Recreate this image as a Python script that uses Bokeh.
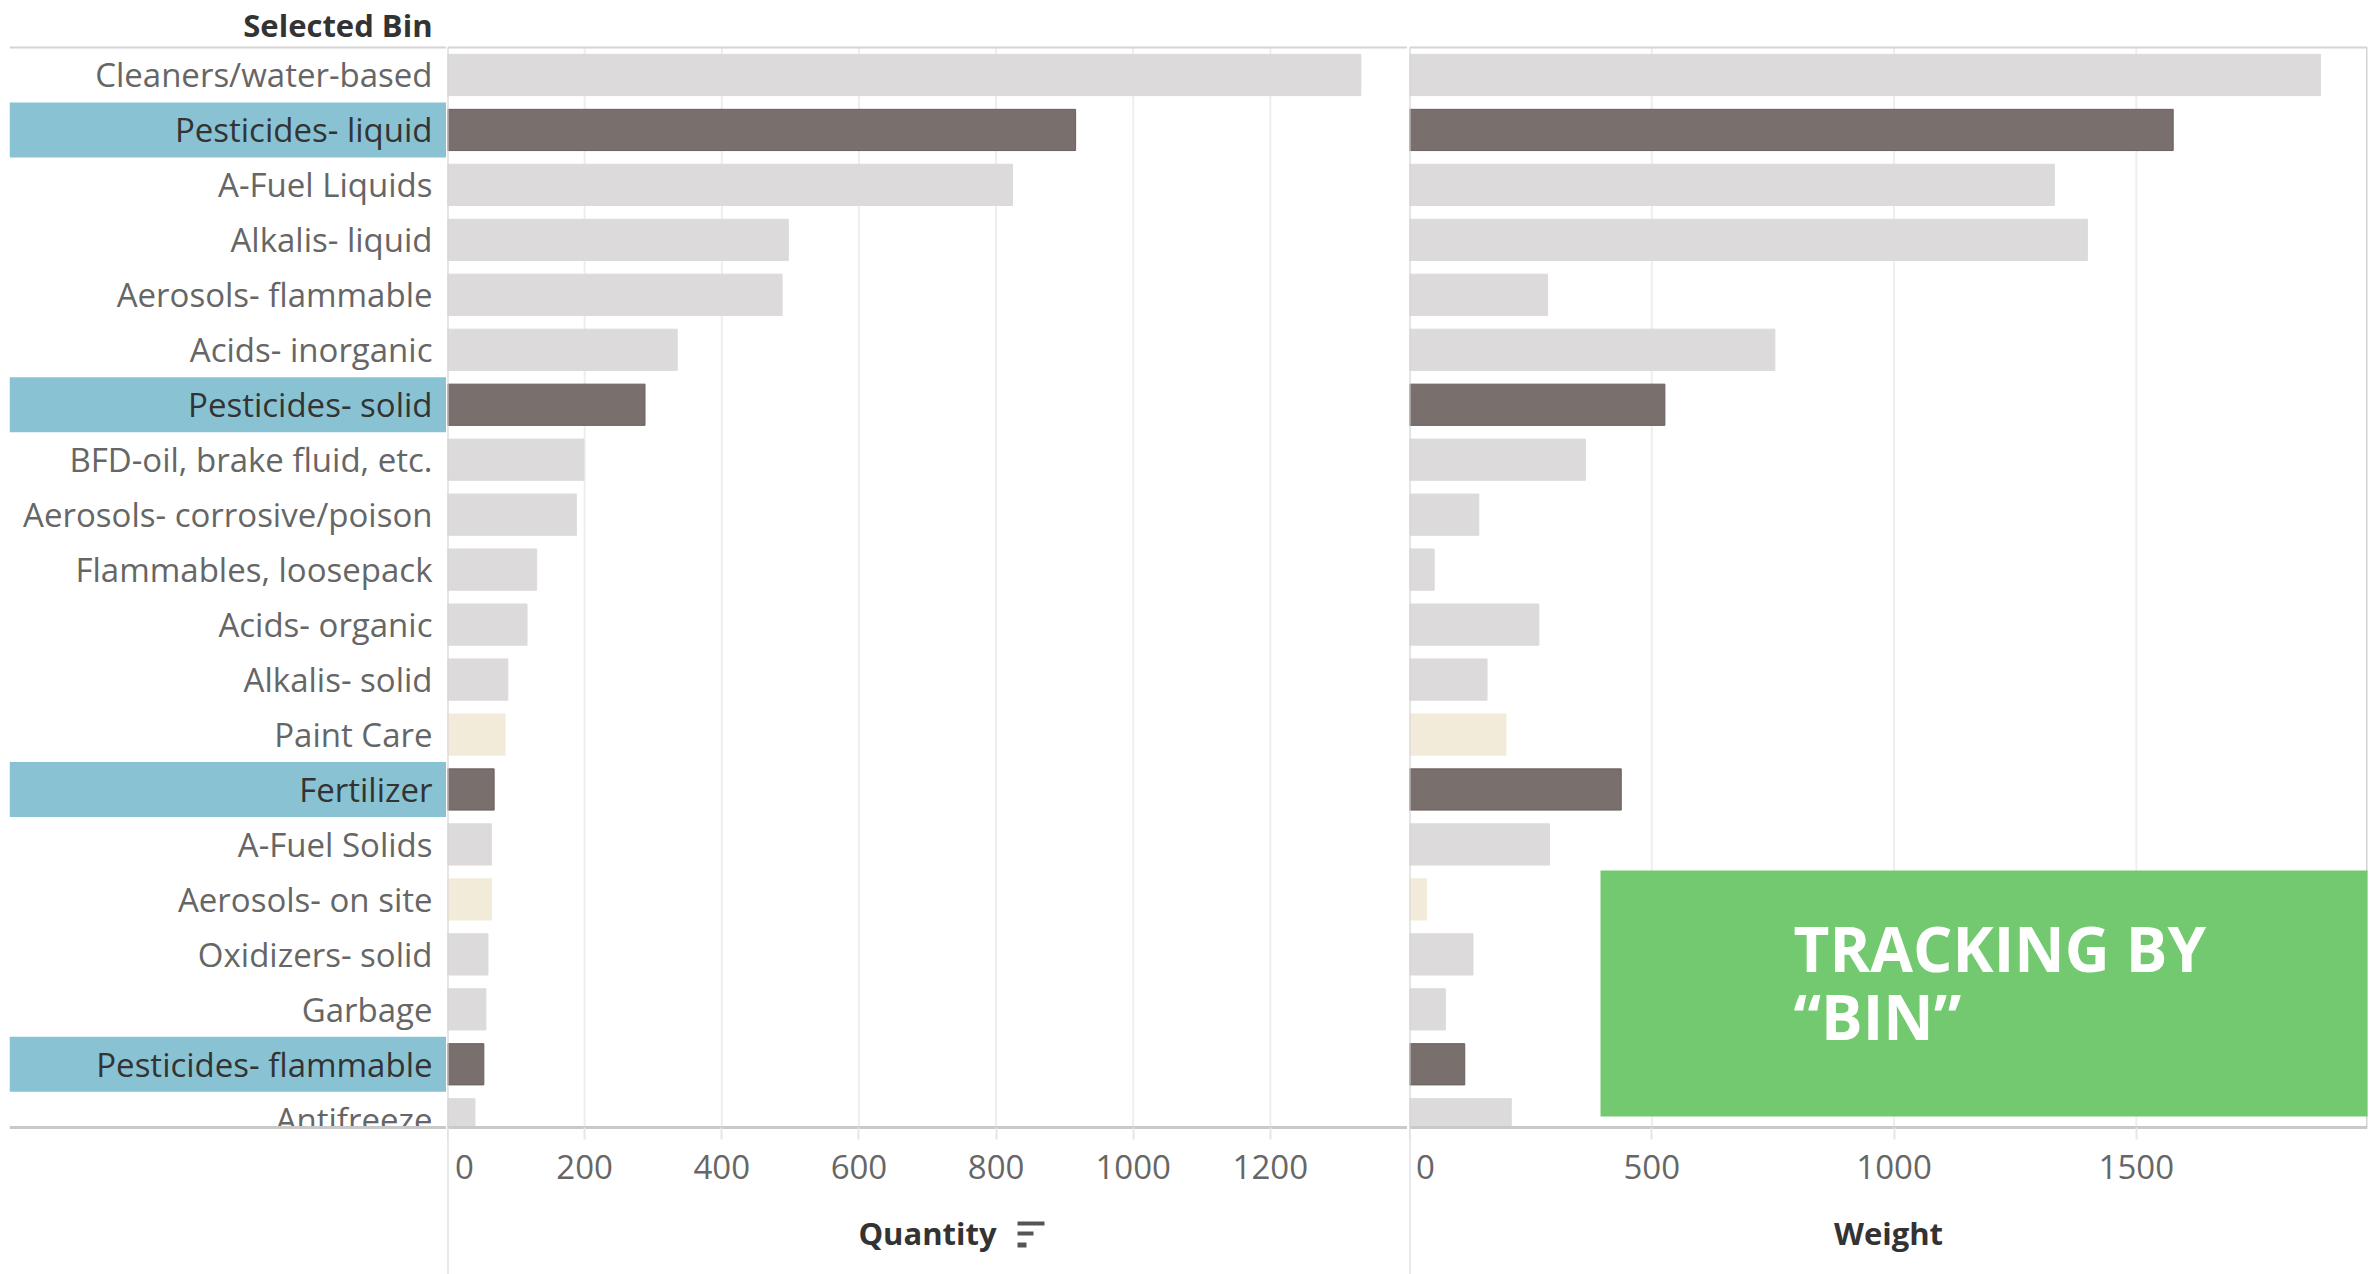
from bokeh.plotting import figure
from bokeh.models import (Range1d, FixedTicker, LinearAxis, Label, BoxAnnotation,
                          ColumnDataSource, Span)
from bokeh.layouts import row
from bokeh.core.properties import value
from bokeh.embed import file_html
from bokeh.resources import INLINE

# ---------------- data ----------------
categories = ["Cleaners/water-based", "Pesticides- liquid", "A-Fuel Liquids", "Alkalis- liquid",
              "Aerosols- flammable", "Acids- inorganic", "Pesticides- solid",
              "BFD-oil, brake fluid, etc.", "Aerosols- corrosive/poison", "Flammables, loosepack",
              "Acids- organic", "Alkalis- solid", "Paint Care", "Fertilizer", "A-Fuel Solids",
              "Aerosols- on site", "Oxidizers- solid", "Garbage", "Pesticides- flammable",
              "Antifreeze"]
quantity = [1332, 916, 824, 497, 488, 335, 288, 199, 188, 130,
            116, 88, 84, 68, 64, 64, 59, 56, 53, 40]
weight = [1880, 1576, 1331, 1399, 285, 754, 527, 363, 143, 51,
          267, 160, 199, 437, 289, 35, 131, 74, 114, 210]
bin_group = ["other", "selected", "other", "other", "other", "other", "selected", "other",
             "other", "other", "other", "other", "paint", "selected", "other", "paint",
             "other", "other", "selected", "other"]
quantity_ticks = [0, 200, 400, 600, 800, 1000, 1200]
weight_ticks = [0, 500, 1000, 1500]

# ---------------- styles / layout ----------------
FONT = "Open Sans"
BAR_COLORS = {"other": "#DCDADA", "selected": "#796F6C", "paint": "#F2EBD9"}
BAR_EDGES = {"other": "#DCDADA", "selected": "#6A605E", "paint": "#F2EBD9"}
LABEL_COLORS = {"other": "#666666", "selected": "#333333", "paint": "#666666"}
HIGHLIGHT = "#89C3D3"
LINE = "#D4D4D4"
AXIS_LINE = "#C9C9C9"
GRID = "#EEEEEE"

H = 1274
ROW_PX = 1080 / 19.65          # pixel height of one category row
TOP_PX = 47                    # header strip above the first row
VIEW_END = len(categories) - 0.85   # rows are scrolled: last row partly hidden
Y_TOP = -0.5 - TOP_PX / ROW_PX
Y_BOTTOM = Y_TOP + H / ROW_PX
Q_MAX = 1400
W_MAX = 1977

ypos = list(range(len(categories)))
src = ColumnDataSource(dict(
    y=ypos, label=categories, quantity=quantity, weight=weight,
    color=[BAR_COLORS[g] for g in bin_group],
    edge=[BAR_EDGES[g] for g in bin_group],
    label_color=[LABEL_COLORS[g] for g in bin_group],
))
sel_src = ColumnDataSource(dict(
    y=[y for y, g in zip(ypos, bin_group) if g == "selected"]))

yr = Range1d(start=Y_BOTTOM, end=Y_TOP)


def base(width, xr, left=0, right=0):
    p = figure(width=width, height=H, x_range=xr, y_range=yr, output_backend="svg",
               toolbar_location=None, min_border_top=0, min_border_bottom=0,
               min_border_left=left, min_border_right=right,
               x_axis_type=None, y_axis_type=None)
    p.background_fill_color = "white"
    p.border_fill_color = "white"
    p.outline_line_color = None
    p.add_layout(Span(location=-0.5, dimension="width", line_color=LINE, line_width=2))
    return p


def cover(p, xmax):
    # hide what scrolls below the visible window
    p.quad(left=0, right=xmax, top=VIEW_END, bottom=Y_BOTTOM, fill_color="white",
           line_color=None)


def panel(width, xmax, ticks, values, title, left, right):
    p = base(width, Range1d(0, xmax), left=left, right=right)
    p.segment(x0=ticks, y0=-0.5, x1=ticks, y1=VIEW_END, line_color=GRID, line_width=2)
    p.hbar(y="y", left=0, right=values, height=0.75, fill_color="color", line_color="edge",
           line_width=1, source=src)
    cover(p, xmax)
    p.segment(x0=0, y0=-0.5, x1=0, y1=Y_BOTTOM, line_color=LINE, line_width=2)
    ax = LinearAxis(ticker=FixedTicker(ticks=ticks), fixed_location=VIEW_END)
    ax.axis_label = title
    ax.axis_line_color = AXIS_LINE
    ax.axis_line_width = 3
    ax.major_tick_in = 0
    ax.major_tick_out = 12
    ax.major_tick_line_color = "#E6E6E6"
    ax.major_tick_line_width = 2
    ax.minor_tick_in = 0
    ax.minor_tick_out = 0
    ax.major_label_text_font = FONT
    ax.major_label_text_font_size = "33px"
    ax.major_label_text_color = "#666666"
    ax.major_label_standoff = 4
    ax.axis_label_text_font = FONT
    ax.axis_label_text_font_size = "31px"
    ax.axis_label_text_font_style = "bold"
    ax.axis_label_text_color = "#333333"
    ax.axis_label_standoff = 20
    ax.major_label_overrides = {0: "\u00a00"}
    p.add_layout(ax, "below")
    return p


# ---------------- label column ----------------
pl = base(446, Range1d(0, 1), left=9)
pl.hbar(y="y", left=0, right=1, height=1.0, fill_color=HIGHLIGHT, line_color=None,
        source=sel_src)
pl.text(x=1, y="y", text="label", x_offset=-14, text_align="right", text_baseline="middle",
        text_font=value(FONT), text_font_size=value("33px"), text_color="label_color",
        source=src)
cover(pl, 1)
pl.add_layout(Span(location=VIEW_END, dimension="width", line_color=AXIS_LINE, line_width=3))
pl.add_layout(Label(x=423, y=H - 24, x_units="screen", y_units="screen",
                    text="Selected Bin", text_align="right", text_baseline="middle",
                    text_font=FONT, text_font_size="31px", text_font_style="bold",
                    text_color="#333333"))

# ---------------- quantity panel ----------------
pq = panel(961, Q_MAX, quantity_ticks, "quantity", "Quantity", left=1, right=0)
# sort icon next to the axis title
for (l, r, t, b) in ((570, 597, 53, 49), (570, 586, 43, 39), (570, 579, 32, 27)):
    pq.add_layout(BoxAnnotation(left=l, right=r, top=t, bottom=b, left_units="screen",
                                right_units="screen", top_units="screen",
                                bottom_units="screen", fill_color="#555555", fill_alpha=1,
                                line_alpha=0))

# ---------------- weight panel ----------------
pw = panel(964, W_MAX, weight_ticks, "weight", "Weight", left=2, right=4)
pw.segment(x0=W_MAX, y0=-0.5, x1=W_MAX, y1=VIEW_END, line_color=LINE, line_width=3)

# annotation box
pw.add_layout(BoxAnnotation(left=191, right=1000, top=404, bottom=158, left_units="screen",
                            right_units="screen", top_units="screen", bottom_units="screen",
                            fill_color="#6DC76A", fill_alpha=0.96, line_alpha=0))
pw.add_layout(Label(x=384, y=327, x_units="screen", y_units="screen", text="TRACKING BY",
                    text_align="left", text_baseline="alphabetic", text_font=FONT,
                    text_font_size="62px", text_font_style="bold", text_color="white"))
pw.add_layout(Label(x=384, y=259, x_units="screen", y_units="screen", text="\u201cBIN\u201d",
                    text_align="left", text_baseline="alphabetic", text_font=FONT,
                    text_font_size="62px", text_font_style="bold", text_color="white"))

layout = row(pl, pq, pw)
open("out.html", "w").write(file_html(layout, INLINE))
